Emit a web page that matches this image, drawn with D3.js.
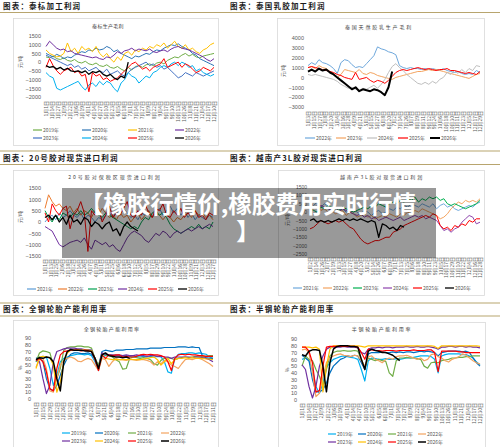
<!DOCTYPE html>
<html><head><meta charset="utf-8">
<script src="https://cdn.jsdelivr.net/npm/d3@7/dist/d3.min.js"></script>
<style>body{margin:0;background:#fff}svg{display:block}</style>
</head><body>
<script>
// ---------- Chart 1: 泰标生产毛利 ----------
const c1Names = ["2019年","2020年","2021年","2022年","2023年","2024年","2025年","2026年"];
const c1Ticks = [1500,1000,500,0,-500,-1000,-1500,-2000];
const c1Dates = ["1/1","1/14","1/27","2/9","2/22","3/6","3/19","4/1","4/14","4/27","5/10","5/23","6/5","6/18","7/1","7/14","7/27","8/9","8/22","9/4","9/17","9/30","10/13","10/26","11/8","11/21","12/4","12/17","12/30"];
const c1_2019 = [300,250,350,200,150,250,100,50,150,0,-50,50,-100,-150,-50,-200,-250,-150,-300,-350,-250,-400,-500,-300,-450,-250,-200,-300,-150,-100,-200,-50,0,-100,100,200,300,250,400,500,350,450,300,250,350,400,450,500];
const c1_2020 = [500,400,300,450,350,200,300,250,400,500,600,550,700,650,800,700,750,900,800,600,700,500,400,300,200,350,300,400,500,450,600,700,650,800,900,1000,950,1050,900,800,700,500,400,200,100,0,-100,-200];
const c1_2021 = [700,500,400,300,350,500,1100,600,800,500,900,700,800,600,900,500,300,500,200,0,300,100,500,600,400,700,600,800,700,900,800,1000,900,1100,800,1000,1200,900,800,1000,700,800,600,500,700,800,1000,1100];
const c1_2022 = [900,1200,1000,800,700,750,600,650,500,450,400,350,300,250,300,200,150,300,250,400,600,500,650,700,800,650,750,700,650,750,600,550,650,700,600,750,850,900,800,750,700,600,500,400,300,150,50,200];
const c1_2023 = [400,300,200,100,0,-100,-200,-100,-300,-200,-400,-300,-500,-400,-300,-500,-600,-400,-700,-600,-500,-700,-800,-600,-400,-300,-200,-100,0,-200,-100,-300,-200,-400,-300,-500,-700,-900,-800,-600,-700,-800,-600,-700,-800,-700,-600,-500];
const c1_2024 = [-600,-800,-900,-1500,-1600,-1500,-1400,-1300,-1200,-1100,-1400,-1600,-1300,-1200,-1400,-1100,-1300,-1100,-1200,-1500,-1700,-1200,-1000,-600,-800,-900,-1200,-1000,-800,-900,-600,-500,-300,-200,-300,-100,0,-200,0,-100,-300,-200,-500,-400,-600,-700,-800,-700];
const c1_2025 = [-300,200,-200,-500,-700,-500,-400,-300,-600,-500,-800,-700,-1700,-600,-800,-700,-1000,-900,-1100,-1000,-900,-700,-500,-300,-100,0,-200,-400,-300,-500,-300,-200,-100,200,-300,-200,-100,0,-300,-100,-200,-400,-600,-500,-300,-400,-500,-300];
const c1_2026 = [-200,-300,-250,-400,-300,-450,-350,-500,-550,-500,-600,-500,-700,-550,-600,-500,-700,-800,-700,-900,-1000,-800,-900,0];

// ---------- Chart 2: 泰国天然胶乳生产毛利 ----------
const c2Names = ["2022年","2023年","2024年","2025年","2026年"];
const c2Ticks = [4000,3000,2000,1000,0,-1000,-2000,-3000];
const c2Dates = ["1/3","1/15","1/27","2/8","2/20","3/4","3/16","3/28","4/9","4/21","5/3","5/15","5/27","6/8","6/20","7/2","7/14","7/26","8/7","8/19","8/31","9/12","9/24","10/6","10/18","10/30","11/11","11/23","12/5","12/17","12/29"];
const c2_2022 = [1200,1500,1300,1800,1500,1400,1200,900,400,1500,1800,1700,1300,1000,1100,1000,1400,1800,2200,3100,2900,2800,2600,2500,2300,1200,1000,900,1000,900,900,800,900,800,900,800,700,900,700,600,500,600,400,300,400,300,700,500];
const c2_2023 = [1000,1100,900,1200,1000,900,600,400,0,300,800,700,600,500,800,400,300,500,400,200,100,0,-100,-200,0,100,200,300,400,500,600,600,700,800,700,800,700,600,500,400,300,200,100,0,-100,100,300,400];
const c2_2024 = [300,200,300,200,100,0,-100,-200,-400,-700,-900,-1100,-1000,-1200,-1300,-1100,-1200,-1000,-800,-1100,-700,-200,500,1100,1400,1000,700,300,0,-300,-600,-700,-500,-700,-400,-600,-200,0,500,300,700,400,800,500,900,700,1200,1100];
const c2_2025 = [1000,1100,1000,900,800,700,600,500,300,200,0,-100,-200,500,-200,-100,0,-300,-500,-300,-400,-600,-300,100,500,700,800,700,800,900,1000,900,800,900,800,700,800,800,900,700,700,600,500,400,500,400,300,600];
const c2_2026 = [600,800,600,900,700,800,500,300,0,-300,-600,-900,-1200,-1000,-1400,-1200,-1300,-1400,-1200,-1300,-1500,-1800,-1000,600];

// ---------- Chart 3: 20号胶对保税区现货进口利润 ----------
const c3Names = ["2021年","2022年","2023年","2024年","2025年","2026年"];
const c3Ticks = [1500,1000,500,0,-500,-1000,-1500];
const c3Dates = ["1/1","1/13","1/25","2/6","2/18","3/2","3/14","3/26","4/7","4/19","5/1","5/13","5/25","6/6","6/18","6/30","7/12","7/24","8/5","8/17","8/29","9/10","9/22","10/4","10/16","10/28","11/9","11/21","12/3","12/15","12/27"];
const c3_2021 = [0,200,300,100,400,200,300,500,300,200,400,100,300,200,0,200,100,300,400,200,500,300,600,400,200,300,100,400,300,500,200,400,600,300,500,700,400,600,300,500,200,400,100,300,200,100,300,200];
const c3_2022 = [600,1200,900,700,800,600,500,700,400,600,300,500,400,200,500,300,600,400,200,300,100,400,200,300,0,200,400,100,300,500,200,400,300,100,300,200,0,200,100,300,400,200,500,300,400,200,300,100];
const c3_2023 = [500,200,0,300,100,400,300,200,400,300,500,300,400,600,400,300,200,400,300,200,100,0,-100,-200,-300,-200,-300,0,200,100,400,500,300,400,200,-100,-300,-400,-500,-400,-300,-200,-300,-100,-300,-200,-300,0];
const c3_2024 = [-200,-300,-400,-700,-1000,-1100,-1000,-900,-850,-800,-900,-700,-1000,-1200,-800,-900,-1000,-900,-1100,-1000,-1200,-1300,-1000,-700,-500,-400,-500,-600,-800,-900,-700,-500,-600,-400,-500,-700,-500,-400,-500,-400,-300,-400,-300,-200,-300,-200,-100,-200];
const c3_2025 = [400,0,800,500,300,600,700,-300,300,500,900,400,-1300,500,300,600,0,300,700,200,400,300,600,900,300,200,500,300,800,400,200,600,500,800,300,200,500,300,600,200,400,300,500,200,300,100,400,300];
const c3_2026 = [200,300,100,300,0,200,-100,300,0,100,-100,200,100,-200,0,-100,-300,-100,0,-400,-300,-600,-200,0,-200,-300,-400];

// ---------- Chart 4: 越南产3L胶对现货进口利润 ----------
const c4Names = ["2021年","2022年","2023年","2024年","2025年","2026年"];
const c4Ticks = [1500,1000,500,0,-500,-1000,-1500,-2000,-2500];
const c4Dates = ["1/2","1/14","1/26","2/7","2/19","3/3","3/15","3/27","4/8","4/20","5/2","5/14","5/26","6/7","6/19","7/1","7/13","7/25","8/6","8/18","8/30","9/11","9/23","10/5","10/17","10/29","11/10","11/22","12/4","12/16","12/28"];
const c4_2021 = [500,400,600,300,500,400,200,300,100,200,0,100,200,0,-100,100,0,-200,0,100,-100,0,200,100,300,200,400,300,500,400,300,500,400,300,500,200,400,500,300,400,200,100,200,300,400,300,500,600];
const c4_2022 = [300,200,400,100,200,0,100,-100,0,100,-200,0,-100,-300,-200,-100,-300,-200,-400,-300,-200,-300,-100,-200,-300,-100,-200,0,-100,100,0,200,100,0,-100,-200,-400,-300,-100,200,400,600,500,700,600,700,600,800];
const c4_2023 = [200,100,0,300,200,400,300,200,100,300,200,100,0,100,200,300,200,400,300,500,400,300,500,600,500,700,600,800,700,900,600,800,700,900,800,900,700,800,500,400,500,400,300,200,300,400,500,700];
const c4_2024 = [100,300,200,400,300,200,100,300,0,200,100,0,-100,-200,-100,-300,-200,-400,-300,-500,-400,-300,-400,-500,-400,-300,-500,-400,-300,-200,-300,-200,-400,-300,-400,-500,-800,-1100,-1000,-1200,-1000,-900,-600,-400,-200,-300,-700,-600];
const c4_2025 = [-1000,-900,-700,-500,-600,-700,-600,-500,-600,-500,-700,-900,-1000,-1300,-1600,-1800,-1900,-1800,-1700,-1700,-1600,-1500,-1500,-1200,-1100,-1000,-800,-700,-600,-500,-400,-300,-200,-300,-100,-200,-800,-1000,-900,-1100,-800,-900,-700,-800,-500,-600,-400,-400];
const c4_2026 = [-500,-400,-600,-500,-600,-500,-600,-500,-400,-500,-400,-500,-400,-500,-400,-500,-600,-500,-600,-1500,-700,-800,-1000,-900,-1100,-800,-900];

// ---------- Chart 5: 全钢轮胎产能利用率 ----------
const c5Names = ["2019年","2020年","2021年","2022年","2023年","2024年","2025年","2026年"];
const c5Ticks = [90,80,70,60,50,40,30,20,10,0];
const c5Dates = ["1/1","1/15","1/29","2/12","2/26","3/12","3/26","4/9","4/23","5/7","5/21","6/4","6/18","7/2","7/16","7/30","8/13","8/27","9/10","9/24","10/8","10/22","11/5","11/19","12/3","12/17","12/31"];
const c5_2019 = [55,60,63,62,45,20,35,55,60,62,64,65,66,66,65,66,64,55,42,62,64,65,64,65,64,63,64,63,62,63,62,63,62,63,62,63,62,55,40,38,60,66,67,67,68,68,67,68,67,66,62,60];
const c5_2020 = [60,62,55,30,15,12,20,35,50,60,66,68,68,67,67,68,66,60,48,70,72,71,70,72,72,72,73,73,73,74,74,74,74,75,75,75,75,76,76,76,76,77,77,77,76,77,76,76,63,61,60,60];
const c5_2021 = [55,68,71,70,68,50,30,45,72,76,77,77,78,78,77,77,75,60,50,66,65,64,62,58,55,44,45,60,62,61,60,61,60,58,52,50,57,60,61,60,58,60,61,62,61,62,63,62,63,63,64,64];
const c5_2022 = [47,58,60,45,12,10,30,50,57,60,62,60,56,55,58,60,58,50,42,60,58,48,55,60,58,58,57,58,58,57,58,58,57,55,50,55,52,57,55,50,48,45,52,58,59,58,60,60,58,55,52,48];
const c5_2023 = [58,55,30,8,20,55,70,72,74,75,75,75,74,74,73,73,72,60,45,68,66,65,65,64,65,64,65,64,64,65,64,64,63,64,64,63,63,62,62,60,62,62,62,62,62,61,62,62,61,60,58,55];
const c5_2024 = [45,62,63,62,61,50,10,25,55,68,72,72,73,72,72,72,71,60,45,65,60,59,58,58,58,58,58,59,58,58,58,59,60,61,62,58,50,55,60,52,58,60,60,61,60,61,60,60,60,59,59,58];
const c5_2025 = [57,60,55,40,15,12,45,65,70,71,72,72,72,71,72,71,70,58,42,65,60,65,64,65,65,62,63,62,62,63,65,66,65,66,65,65,64,62,55,42,60,65,66,65,66,65,65,64,64,63,63,63];
const c5_2026 = [58,61,60,62,61,55,30,12,55,70,73,72,72,72,71,71,70,60,45,65,68,64,63,62,62,61,62,60];

// ---------- Chart 6: 半钢轮胎产能利用率 ----------
const c6Names = ["2019年","2020年","2021年","2022年","2023年","2024年","2025年","2026年"];
const c6Ticks = [90,80,70,60,50,40,30,20,10,0];
const c6Dates = ["1/1","1/14","1/27","2/9","2/22","3/6","3/19","4/1","4/14","4/27","5/10","5/23","6/5","6/18","7/1","7/14","7/27","8/9","8/22","9/4","9/17","9/30","10/13","10/26","11/8","11/21","12/4","12/17","12/30"];
const c6_2019 = [60,62,58,45,20,10,25,48,55,60,62,64,65,64,63,62,60,45,28,58,62,61,60,60,61,60,60,61,60,61,62,62,63,64,65,65,65,64,60,40,65,67,68,68,68,68,67,67,65,62,56,52];
const c6_2020 = [66,62,58,30,12,12,15,25,40,50,55,60,62,65,64,66,65,55,45,68,70,70,70,71,70,70,71,70,71,70,71,71,70,71,72,71,72,71,70,65,70,71,72,72,72,72,71,72,70,62,55,50];
const c6_2021 = [50,65,60,58,45,35,20,45,65,70,72,72,73,72,72,73,72,60,48,62,60,58,60,58,57,40,35,58,62,62,63,62,62,61,60,50,47,55,56,55,58,59,60,62,62,63,63,64,64,65,65,65];
const c6_2022 = [74,75,70,40,5,10,35,55,62,65,67,68,66,65,64,66,65,58,50,64,65,60,58,55,60,62,60,64,65,65,66,64,62,60,62,58,60,67,68,64,62,58,56,60,62,64,68,66,62,58,55,53];
const c6_2023 = [52,45,20,3,20,50,65,75,78,78,78,78,79,78,78,78,77,70,68,75,77,77,78,77,78,78,77,78,78,78,79,78,78,79,78,78,79,78,77,75,78,78,79,79,78,79,79,78,79,78,78,77];
const c6_2024 = [78,78,78,77,78,75,12,50,75,80,80,80,80,80,80,80,80,79,78,80,80,80,80,80,80,80,80,80,80,80,80,80,80,80,80,80,80,80,79,76,80,80,80,80,80,80,80,80,80,80,80,79];
const c6_2025 = [78,78,72,55,12,14,50,78,79,79,79,79,79,79,79,79,78,70,60,75,74,73,73,72,73,73,73,72,73,73,73,73,74,73,73,73,74,74,70,42,72,72,72,72,72,71,71,70,70,70,70,70];
const c6_2026 = [67,65,72,74,74,73,50,12,55,75,79,80,80,80,79,79,78,60,45,72,75,73,72,70,70,68,66,62,58];

// ---------- Page texts ----------
const headers = [
  {text:"图表：泰标加工利润", col:0, row:0},
  {text:"图表：泰国乳胶加工利润", col:1, row:0},
  {text:"图表：20号胶对现货进口利润", col:0, row:1},
  {text:"图表：越南产3L胶对现货进口利润", col:1, row:1},
  {text:"图表：全钢轮胎产能利用率", col:0, row:2},
  {text:"图表：半钢轮胎产能利用率", col:1, row:2}
];
const bannerLines = ["【橡胶行情价,橡胶费用实时行情","】"];

// ---------- Drawing ----------
const W = 500, H = 447;
const svg = d3.select("body").append("svg").attr("width", W).attr("height", H);
svg.append("rect").attr("width", W).attr("height", H).attr("fill", "#fff");

const NUMF = "'Liberation Sans', Arial, 'Noto Sans CJK SC', sans-serif";
const CJKF = "'Noto Sans CJK SC', 'Noto Sans', sans-serif";
const fmtDate = s => { const p = s.split("/"); return p[0] + "月" + p[1] + "日"; };
const fmtNum = d3.format("d");

const rowHead = [{cy:6.5, above:null, below:12.5},{cy:158, above:151, below:164.5},{cy:309.5, above:303, below:316}];
rowHead.forEach(r => {
  [r.above, r.below].forEach(yy => {
    if (yy === null) return;
    svg.append("line").attr("x1",0).attr("x2",W).attr("y1",yy).attr("y2",yy)
      .attr("stroke","#b8a56e").attr("stroke-width",1.1);
  });
});
const colX = [3, 230];
headers.forEach(h => {
  svg.append("text").attr("x", colX[h.col]).attr("y", rowHead[h.row].cy)
    .attr("dy","0.36em").attr("font-family", CJKF).attr("font-weight", 700)
    .attr("font-size", 7.5).attr("letter-spacing", 1.2).attr("fill", "#1a1a1a").text(h.text);
});

function drawChart(c) {
  const g = svg.append("g");
  g.append("rect").attr("x", c.box[0] + 0.5).attr("y", c.box[1] + 0.5)
    .attr("width", c.box[2] - c.box[0]).attr("height", c.box[3] - c.box[1])
    .attr("fill", "#fff").attr("stroke", "#d9d9d9").attr("stroke-width", 0.8);
  g.append("text").attr("x", c.titleX).attr("y", c.titleY).attr("dy", "0.35em")
    .attr("text-anchor", "middle").attr("font-family", CJKF).attr("font-size", c.titleSize)
    .attr("letter-spacing", c.titleLS).attr("fill", "#404040").text(c.title);

  const x = d3.scaleLinear().domain([0, c.n - 1]).range([c.x0, c.x1]);
  const y = d3.scaleLinear().domain(c.yDomain).range([c.yBot, c.yTop]);

  const ya = g.append("g").attr("transform", `translate(${c.yLabelX},0)`)
    .call(d3.axisLeft(y).tickValues(c.ticks).tickSize(0).tickPadding(0).tickFormat(fmtNum));
  ya.select(".domain").remove();
  ya.selectAll("text").attr("font-family", NUMF).attr("font-size", c.tickSize).attr("fill", "#595959");

  g.append("text").attr("transform", `translate(${c.yTitleX},${c.yTitleY}) rotate(-90)`)
    .attr("text-anchor", "middle").attr("dy", "0.35em").attr("font-family", CJKF)
    .attr("font-size", 5).attr("fill", "#595959").text(c.yTitle);

  const xd = d3.scalePoint().domain(c.dates).range([c.x0, c.x1]);
  const xa = g.append("g").attr("transform", `translate(0,${c.dateTop})`)
    .call(d3.axisBottom(xd).tickSize(0).tickFormat(fmtDate));
  xa.select(".domain").remove();
  xa.selectAll("text").attr("transform", "rotate(-90)").attr("text-anchor", "end")
    .attr("x", 0).attr("y", 0).attr("dy", "0.35em")
    .attr("font-family", CJKF).attr("font-size", 5).attr("fill", "#595959");

  const line = d3.line().x((d, i) => x(i)).y(d => y(d));
  c.series.forEach((s, k) => {
    g.append("path").datum(s).attr("d", line).attr("fill", "none")
      .attr("stroke", c.colors[k]).attr("stroke-width", c.widths[k])
      .attr("stroke-linejoin", "round");
  });

  c.names.forEach((nm, k) => {
    const col = k % c.legCols.length, row = Math.floor(k / c.legCols.length);
    const lx = c.legCols[col], ly = c.legRows[row];
    g.append("line").attr("x1", lx).attr("x2", lx + c.legLine).attr("y1", ly).attr("y2", ly)
      .attr("stroke", c.colors[k]).attr("stroke-width", Math.max(1.2, c.widths[k]));
    g.append("text").attr("x", lx + c.legLine + 1).attr("y", ly).attr("dy", "0.35em")
      .attr("font-family", CJKF).attr("font-size", 5).attr("fill", "#595959").text(nm);
  });
}

drawChart({
  box:[13,18,218,145], title:"泰标生产毛利", titleX:108, titleY:26, titleSize:5, titleLS:0.3,
  n:48, x0:46, x1:214, yTop:36, yBot:97, yDomain:[-2000,1500], ticks:c1Ticks, yLabelX:41, tickSize:5.5,
  yTitle:"元/吨", yTitleX:20, yTitleY:62, dates:c1Dates, dateTop:101,
  names:c1Names, series:[c1_2019,c1_2020,c1_2021,c1_2022,c1_2023,c1_2024,c1_2025,c1_2026],
  colors:["#70ad47","#2e75b6","#ffc000","#7030a0","#4472c4","#00b0f0","#ff0000","#000000"],
  widths:[1,1,1,1,1,1,1,1.3],
  legCols:[33,82,128,175], legRows:[130,138], legLine:9
});
drawChart({
  box:[277,18,484,145], title:"泰国天然胶乳生产毛利", titleX:379, titleY:27, titleSize:5, titleLS:1.8,
  n:48, x0:308, x1:480, yTop:38, yBot:107, yDomain:[-3000,4000], ticks:c2Ticks, yLabelX:304, tickSize:5.5,
  yTitle:"元/吨", yTitleX:283, yTitleY:71, dates:c2Dates, dateTop:111,
  names:c2Names, series:[c2_2022,c2_2023,c2_2024,c2_2025,c2_2026],
  colors:["#6fa8dc","#f4a460","#bfbfbf","#ff0000","#000000"],
  widths:[1,1,1,1,2],
  legCols:[305,336,367,398,430], legRows:[138], legLine:10
});
drawChart({
  box:[13,170,218,295], title:"20号胶对保税区现货进口利润", titleX:115, titleY:177, titleSize:5, titleLS:2,
  n:48, x0:45, x1:213, yTop:188, yBot:256, yDomain:[-1500,1500], ticks:c3Ticks, yLabelX:41, tickSize:5.5,
  yTitle:"元/吨", yTitleX:20, yTitleY:217, dates:c3Dates, dateTop:259,
  names:c3Names, series:[c3_2021,c3_2022,c3_2023,c3_2024,c3_2025,c3_2026],
  colors:["#5b9bd5","#ed7d31","#00a050","#7030a0","#ff0000","#000000"],
  widths:[1,1,1,1,1,1.3],
  legCols:[27,58,88,118,148,178], legRows:[289], legLine:9
});
drawChart({
  box:[278,170,484,295], title:"越南产3L胶对现货进口利润", titleX:382, titleY:177, titleSize:5, titleLS:1.8,
  n:48, x0:310, x1:480, yTop:187, yBot:254, yDomain:[-2500,1500], ticks:c4Ticks, yLabelX:307, tickSize:5,
  yTitle:"元/吨", yTitleX:287, yTitleY:220, dates:c4Dates, dateTop:257,
  names:c4Names, series:[c4_2021,c4_2022,c4_2023,c4_2024,c4_2025,c4_2026],
  colors:["#6fa8dc","#f4a460","#00b050","#8e44ad","#ff0000","#000000"],
  widths:[1,1,1,1,1,1.3],
  legCols:[293,323,353,383,413,445], legRows:[288], legLine:9
});
drawChart({
  box:[13,320,218,460], title:"全钢轮胎产能利用率", titleX:112, titleY:329, titleSize:5, titleLS:1.3,
  n:52, x0:36, x1:213, yTop:338, yBot:399, yDomain:[0,90], ticks:c5Ticks, yLabelX:31, tickSize:5.5,
  yTitle:"%", yTitleX:20, yTitleY:368, dates:c5Dates, dateTop:402,
  names:c5Names, series:[c5_2019,c5_2020,c5_2021,c5_2022,c5_2023,c5_2024,c5_2025,c5_2026],
  colors:["#00b0f0","#0070c0","#70ad47","#f4a460","#7030a0","#ffc000","#ff0000","#000000"],
  widths:[1.2,1.2,1.2,1.2,1.2,1.2,1.2,1.5],
  legCols:[62,95,128,161], legRows:[433,441], legLine:8
});
drawChart({
  box:[278,322,485,460], title:"半钢轮胎产能利用率", titleX:382, titleY:329, titleSize:5, titleLS:1.7,
  n:52, x0:302, x1:480, yTop:339, yBot:400, yDomain:[0,90], ticks:c6Ticks, yLabelX:297, tickSize:5.5,
  yTitle:"%", yTitleX:287, yTitleY:370, dates:c6Dates, dateTop:403,
  names:c6Names, series:[c6_2019,c6_2020,c6_2021,c6_2022,c6_2023,c6_2024,c6_2025,c6_2026],
  colors:["#00b0f0","#0070c0","#70ad47","#f4a460","#7030a0","#ffc000","#ff0000","#000000"],
  widths:[1.2,1.2,1.2,1.2,1.2,1.2,1.2,1.5],
  legCols:[328,358,388,418], legRows:[434,442], legLine:8
});

// banner overlay
svg.append("rect").attr("x", 62).attr("y", 188).attr("width", 374).attr("height", 70)
  .attr("fill", "rgba(0,0,0,0.4)");
bannerLines.forEach((t, i) => {
  svg.append("text").attr("x", 248).attr("y", 213 + i * 27).attr("text-anchor", "middle")
    .attr("font-family", CJKF).attr("font-weight", 700).attr("font-size", 23.5)
    .attr("fill", "#fff").text(t);
});
</script>
</body></html>
